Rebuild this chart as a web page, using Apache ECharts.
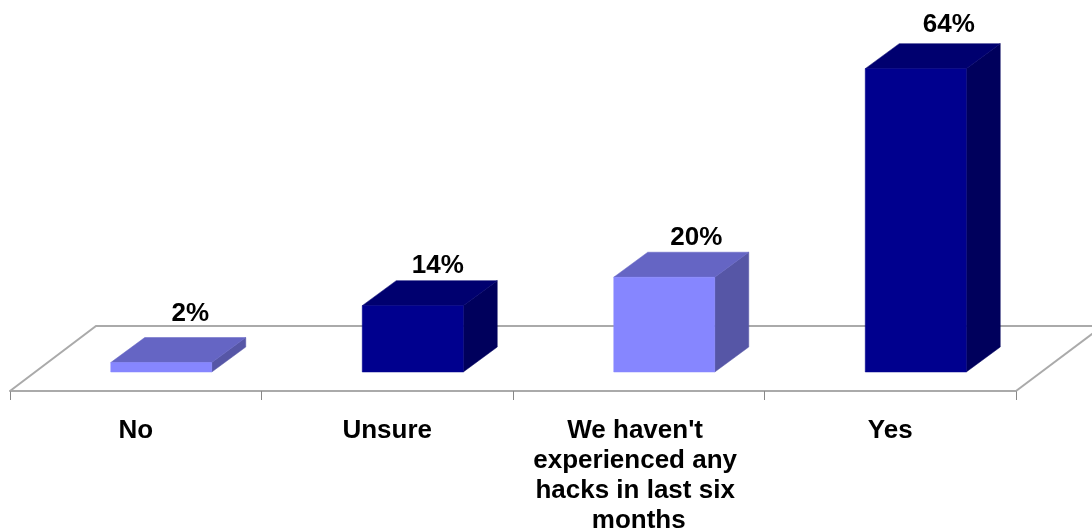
<!DOCTYPE html>
<html>
<head>
<meta charset="utf-8">
<style>html,body{margin:0;padding:0;background:#fff}#c{width:1092px;height:531px}</style>
<script src="https://cdn.jsdelivr.net/npm/echarts@6/dist/echarts.min.js"></script>
</head>
<body>
<div id="c"></div>
<script>
const categories = ["No", "Unsure", "We haven't experienced any hacks in last six months", "Yes"];
const values = [2, 14, 20, 64];
const labelNudgeX = [29, 25, 32, 33];
const labelNudgeY = [-49, -40, -39, -44];

const DX = 34, DY = 25, BAR_W = 101, BAR_SHIFT = 25.5;
const lightShade = { front: '#8686ff', top: '#6565c4', side: '#5656a6' };
const darkShade = { front: '#00008e', top: '#00006f', side: '#00005c' };

function renderBar(params, api) {
  const i = api.value(0);
  const v = api.value(1);
  const top = api.coord([i, v]);
  const base = api.coord([i, 0]);
  const cx = top[0] + BAR_SHIFT;
  const l = cx - BAR_W / 2, r = cx + BAR_W / 2;
  const s = i % 2 === 0 ? lightShade : darkShade;
  const poly = (pts, fill) => ({ type: 'polygon', shape: { points: pts }, style: { fill: fill, stroke: fill, lineWidth: 0.5 } });
  return {
    type: 'group',
    children: [
      poly([[r, base[1]], [r + DX, base[1] - DY], [r + DX, top[1] - DY], [r, top[1]]], s.side),
      poly([[l, top[1]], [l + DX, top[1] - DY], [r + DX, top[1] - DY], [r, top[1]]], s.top),
      poly([[l, top[1]], [r, top[1]], [r, base[1]], [l, base[1]]], s.front),
      {
        type: 'text',
        style: {
          x: cx + labelNudgeX[i],
          y: top[1] + labelNudgeY[i],
          text: v + '%',
          fill: '#000',
          font: 'bold 26px "Liberation Sans", Arial, sans-serif',
          align: 'center',
          verticalAlign: 'middle'
        }
      }
    ]
  };
}

function renderFloor(params, api) {
  const c = params.coordSys;
  const base = c.y + c.height;
  const front = base + 19, back = base - 46;
  const line = { stroke: '#aaaaaa', lineWidth: 2, fill: 'none' };
  return {
    type: 'group',
    children: [
      { type: 'polyline', shape: { points: [[c.x, front], [c.x + 86, back], [c.x + c.width + 90, back]] }, style: line },
      { type: 'line', shape: { x1: c.x + c.width, y1: front, x2: c.x + c.width + 80, y2: front - 60 }, style: line }
    ]
  };
}

const chart = echarts.init(document.getElementById('c'), null, { renderer: 'canvas' });
chart.setOption({
  animation: false,
  backgroundColor: '#fff',
  grid: { left: 10, right: 76, top: 16.5, bottom: 159, outerBoundsMode: 'none' },
  xAxis: {
    type: 'category',
    data: categories,
    offset: 19,
    axisLine: { onZero: false, lineStyle: { color: '#aaaaaa', width: 2 } },
    axisTick: { show: true, length: 9, lineStyle: { color: '#888888', width: 1 } },
    axisLabel: {
      interval: 0,
      margin: 25,
      width: 220,
      overflow: 'break',
      lineHeight: 30,
      color: '#000',
      fontFamily: '"Liberation Sans", Arial, sans-serif',
      fontWeight: 'bold',
      fontSize: 26
    }
  },
  yAxis: { type: 'value', min: 0, max: 75, show: false },
  series: [
    { type: 'custom', z: 1, silent: true, renderItem: renderFloor, data: [[0, 0]], encode: { x: 0, y: 1 } },
    { type: 'custom', z: 3, renderItem: renderBar, data: values.map((v, i) => [i, v]), encode: { x: 0, y: 1 } }
  ]
});
</script>
</body>
</html>
